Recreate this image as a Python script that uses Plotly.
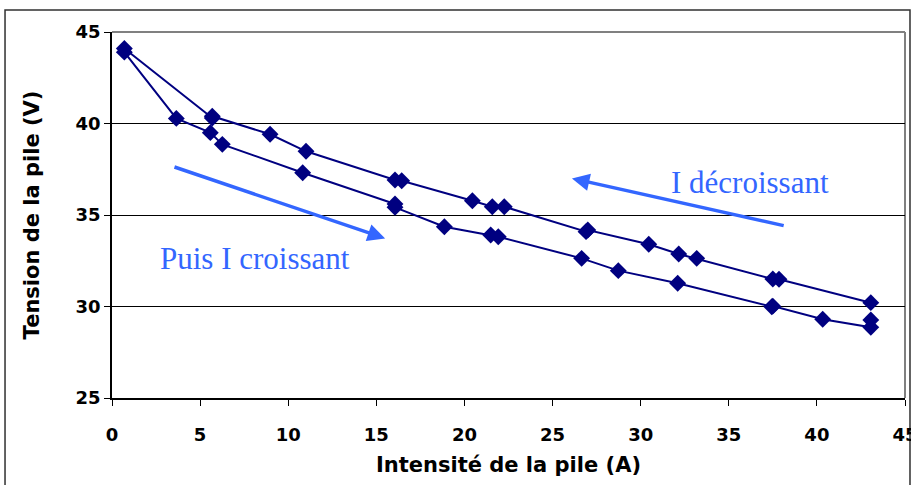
import plotly.graph_objects as go

# Intensité (A) and Tension (V): first I décroissant, then I croissant
intensite = [43.06, 37.85, 37.5, 33.18, 32.16, 30.46, 27.0, 26.9, 22.26, 21.58, 20.45,
             16.44, 16.06, 11.01, 8.97, 5.69, 5.69, 0.7,
             0.7, 3.65, 5.58, 6.26, 10.82, 16.06, 16.06, 18.86, 21.49, 21.92,
             26.65, 28.73, 32.1, 37.44, 37.5, 40.33, 43.06, 43.06]
tension = [30.21, 31.49, 31.5, 32.63, 32.87, 33.4, 34.18, 34.09, 35.45, 35.45, 35.78,
           36.87, 36.91, 38.48, 39.41, 40.4, 40.3, 44.1,
           43.9, 40.28, 39.5, 38.86, 37.31, 35.6, 35.42, 34.36, 33.91, 33.81,
           32.63, 31.96, 31.27, 29.99, 30.02, 29.3, 28.86, 29.26]

x_ticks = [0, 5, 10, 15, 20, 25, 30, 35, 40, 45]
y_ticks = [25, 30, 35, 40, 45]

label_dec = "I décroissant"
label_cro = "Puis I croissant"
x_title = "Intensité de la pile (A)"
y_title = "Tension de la pile (V)"

navy = "#000080"
blue = "#3366FF"
sans = "DejaVu Sans"
serif = "Liberation Serif, Times New Roman"

fig = go.Figure()
fig.add_trace(go.Scatter(
    x=intensite, y=tension, mode="lines+markers",
    line=dict(color=navy, width=2),
    marker=dict(symbol="diamond", size=13, color=navy),
    cliponaxis=False, showlegend=False,
))

fig.update_layout(
    width=911, height=485,
    margin=dict(l=112, r=6, t=32, b=87, autoexpand=False),
    paper_bgcolor="white", plot_bgcolor="white",
    font=dict(family=sans, color="black"),
    xaxis=dict(range=[0, 45], tickvals=x_ticks, ticks="outside", ticklen=6,
               tickcolor="black", showgrid=False, zeroline=False,
               showline=True, linecolor="black", linewidth=1.5,
               automargin=False,
               ticklabeloverflow="allow", ticklabelstandoff=14,
               tickfont=dict(size=18, family=sans, weight="bold"),
               title=dict(text="<b>" + x_title + "</b>", font=dict(size=21, family=sans), standoff=13)),
    yaxis=dict(range=[25, 45], tickvals=y_ticks, ticks="outside", ticklen=6,
               tickcolor="black", showgrid=True, gridcolor="black", gridwidth=1,
               zeroline=False, showline=True, linecolor="black", linewidth=1.5,
               automargin=False, ticklabelstandoff=0,
               tickfont=dict(size=18, family=sans, weight="bold"),
               title=dict(text="<b>" + y_title + "</b>", font=dict(size=21, family=sans), standoff=30)),
)

# plot area border (gray top/right)
fig.add_shape(type="line", xref="paper", yref="paper", x0=0, x1=1, y0=1, y1=1,
              line=dict(color="#808080", width=2), layer="below")
fig.add_shape(type="line", xref="paper", yref="paper", x0=1, x1=1, y0=0, y1=1,
              line=dict(color="#808080", width=2), layer="below")
# outer chart frame
fig.add_shape(type="rect", xref="paper", yref="paper",
              x0=-0.1349, x1=1.0063, y0=-0.35, y1=1.0601,
              line=dict(color="#303030", width=1.5), layer="below")

# arrows
fig.add_annotation(x=26.1, y=37.0, ax=38.2, ay=34.4, xref="x", yref="y",
                   axref="x", ayref="y", text="", showarrow=True,
                   arrowhead=2, arrowsize=1, arrowwidth=3.5, arrowcolor=blue)
fig.add_annotation(x=15.5, y=33.72, ax=3.46, ay=37.65, xref="x", yref="y",
                   axref="x", ayref="y", text="", showarrow=True,
                   arrowhead=2, arrowsize=1, arrowwidth=3.5, arrowcolor=blue)
fig.add_annotation(x=36.2, y=36.75, xref="x", yref="y", text=label_dec, showarrow=False,
                   font=dict(family=serif, size=31, color=blue))
fig.add_annotation(x=8.12, y=32.65, xref="x", yref="y", text=label_cro, showarrow=False,
                   font=dict(family=serif, size=31, color=blue))

fig.write_html("out.html")
